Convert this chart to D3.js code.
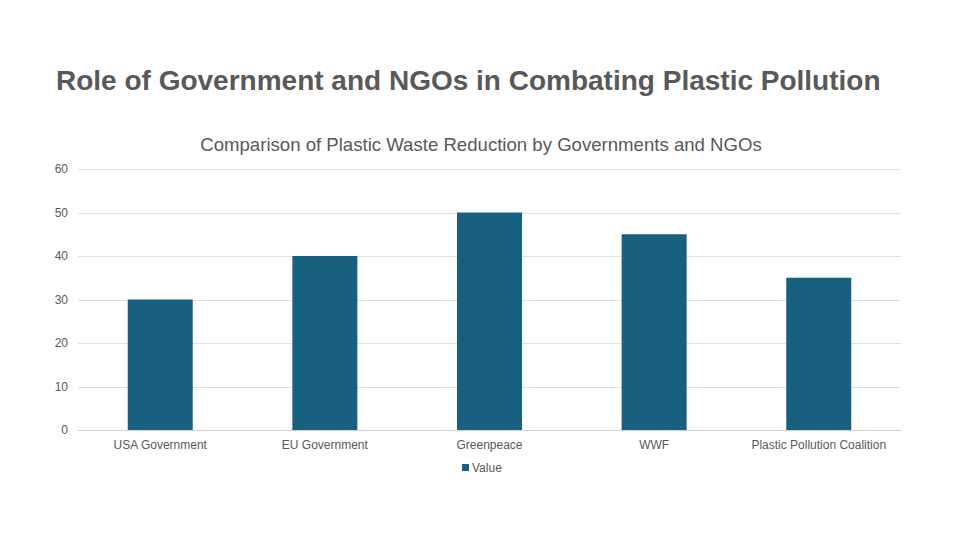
<!DOCTYPE html>
<html><head><meta charset="utf-8">
<script src="https://cdn.jsdelivr.net/npm/d3@7"></script>
<style>body{margin:0;background:#fff;}svg{display:block;font-family:"Liberation Sans",Arial,sans-serif;}</style>
</head><body>
<svg id="c" width="960" height="540"></svg>
<script>
const categories = ["USA Government","EU Government","Greenpeace","WWF","Plastic Pollution Coalition"];
const values = [30,40,50,45,35];
const yTicks = [0,10,20,30,40,50,60];
const seriesName = "Value";

(function(){
const svg = d3.select("#c");
const pL = 78, pR = 901, pT = 169, pB = 430;
const x = d3.scaleBand().domain(categories).range([pL,pR]).paddingInner(0.605).paddingOuter(0.302);
const y = d3.scaleLinear().domain([0,60]).range([pB,pT]);

svg.append("text").attr("x",56).attr("y",90).attr("font-size",28).attr("font-weight","bold")
  .attr("fill","#595959").text("Role of Government and NGOs in Combating Plastic Pollution");
svg.append("text").attr("x",481).attr("y",151).attr("text-anchor","middle").attr("font-size",18.6)
  .attr("fill","#595959").text("Comparison of Plastic Waste Reduction by Governments and NGOs");

svg.append("g").selectAll("line").data(yTicks).join("line")
  .attr("x1",pL).attr("x2",pR).attr("y1",d=>Math.round(y(d))+0.5).attr("y2",d=>Math.round(y(d))+0.5)
  .attr("stroke",d=>d===0?"#d0d0d0":"#e0e0e0").attr("stroke-width",1);
svg.append("g").selectAll("text").data(yTicks).join("text")
  .attr("x",68).attr("y",d=>y(d)+4).attr("text-anchor","end").attr("font-size",12)
  .attr("fill","#595959").text(d=>d);

svg.append("g").selectAll("rect").data(values).join("rect")
  .attr("x",(d,i)=>x(categories[i])).attr("width",x.bandwidth())
  .attr("y",d=>y(d)).attr("height",d=>y(0)-y(d)).attr("fill","#17607F");

svg.append("g").selectAll("text").data(categories).join("text")
  .attr("x",d=>x(d)+x.bandwidth()/2).attr("y",449).attr("text-anchor","middle")
  .attr("font-size",12).attr("fill","#595959").text(d=>d);

svg.append("rect").attr("x",462).attr("y",464).attr("width",7).attr("height",7).attr("fill","#17607F");
svg.append("text").attr("x",472).attr("y",472).attr("font-size",12).attr("fill","#595959").text(seriesName);
})();
</script>
</body></html>
